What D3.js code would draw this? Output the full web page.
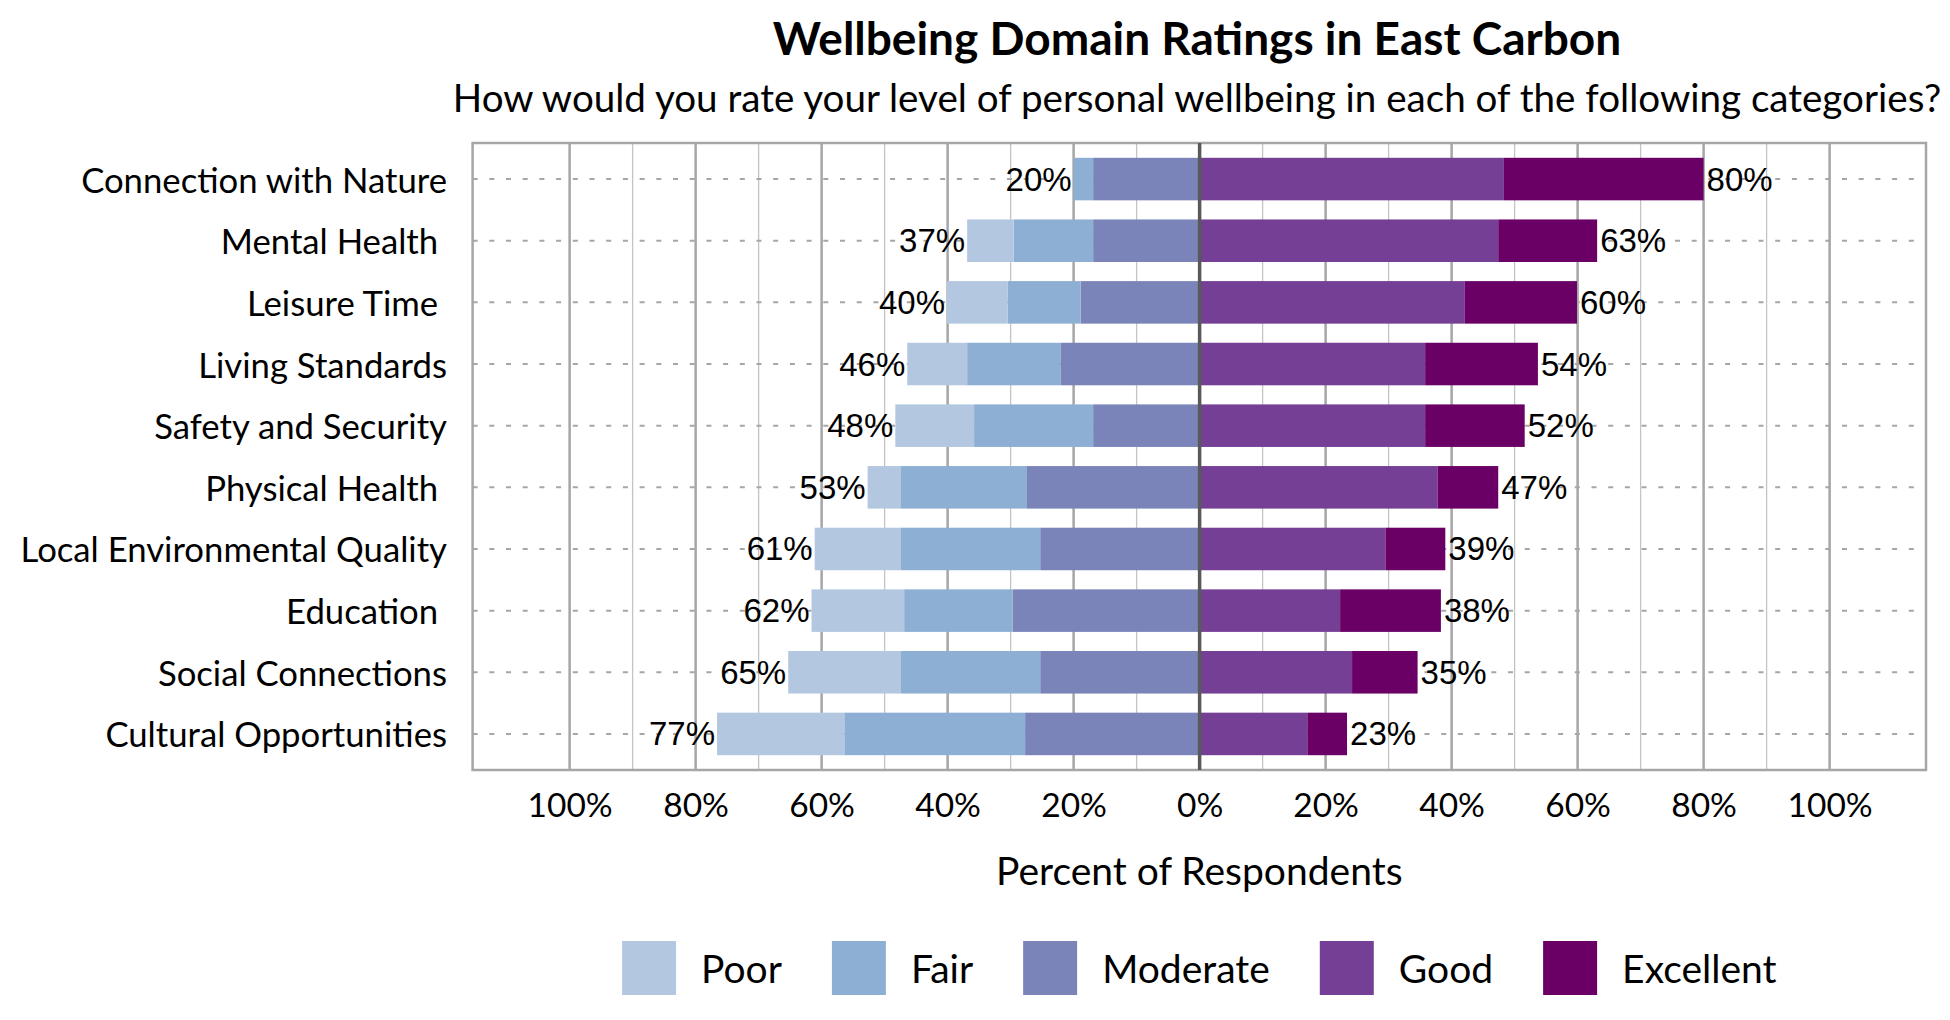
<!DOCTYPE html>
<html>
<head>
<meta charset="utf-8">
<script src="https://cdn.jsdelivr.net/npm/d3@7"></script>
<style>
  body { margin: 0; background: #fff; }
  text { fill: #000; }
  .cat { font-family: Lato, sans-serif; font-size: 34.7px; white-space: pre; }
  .val { font-family: "Liberation Sans", Arial, sans-serif; font-size: 33px; }
</style>
</head>
<body>
<script>
// ratings per domain, percent of respondents
var categories = ["Connection with Nature", "Mental Health ", "Leisure Time ", "Living Standards",
  "Safety and Security", "Physical Health ", "Local Environmental Quality", "Education ",
  "Social Connections", "Cultural Opportunities"]
var poor      = [0.0,  7.4,  9.6,  9.5, 12.5,  5.3, 13.7, 14.7, 17.9, 20.2]
var fair      = [3.1, 12.6, 11.6, 14.8, 18.9, 20.0, 22.1, 17.2, 22.1, 28.7]
var moderate  = [16.9, 16.9, 18.9, 22.1, 16.9, 27.4, 25.3, 29.7, 25.3, 27.7]
var good      = [48.3, 47.4, 42.1, 35.8, 35.8, 37.8, 29.5, 22.3, 24.2, 17.1]
var excellent = [31.7, 15.7, 17.8, 17.9, 15.8,  9.6,  9.5, 16.0, 10.4,  6.3]
var seriesNames = ["Poor", "Fair", "Moderate", "Good", "Excellent"]
var seriesColors = ["#b3c8e0", "#8dafd3", "#7a84b9", "#763f96", "#6a0066"]
var tickVals = [-100, -80, -60, -40, -20, 0, 20, 40, 60, 80, 100]

var W = 1950, H = 1020
var plotL = 472.6, plotR = 1926, plotT = 143, plotB = 770

var svg = d3.select('body').append('svg').attr('width', W).attr('height', H)

var x = d3.scaleLinear().domain([-115.4, 115.3]).range([plotL, plotR])
var y = d3.scaleBand().domain(categories).range([plotT, plotB]).paddingInner(0.31).paddingOuter(0.24)

// titles
svg.append('text').attr('x', 1197).attr('y', 55).attr('text-anchor', 'middle')
  .style('font-family', 'Lato, sans-serif').style('font-weight', 'bold').style('font-size', '46px')
  .text('Wellbeing Domain Ratings in East Carbon')
svg.append('text').attr('x', 1197).attr('y', 112).attr('text-anchor', 'middle')
  .style('font-family', 'Lato, sans-serif').style('font-size', '38.6px')
  .text('How would you rate your level of personal wellbeing in each of the following categories?')

var g = svg.append('g')

// vertical gridlines, every 10%, heavier every 20%
var grid = d3.range(-100, 101, 10).filter(d => d != 0)
g.selectAll('.vgrid').data(grid).enter().append('line')
  .attr('class', 'vgrid')
  .attr('x1', d => x(d)).attr('x2', d => x(d))
  .attr('y1', plotT).attr('y2', plotB)
  .attr('stroke', d => d % 20 == 0 ? '#a6a6a6' : '#c4c4c4')
  .attr('stroke-width', d => d % 20 == 0 ? 2.5 : 1.3)

// dotted row lines
g.selectAll('.hgrid').data(categories).enter().append('line')
  .attr('class', 'hgrid')
  .attr('x1', plotL).attr('x2', plotR)
  .attr('y1', d => y(d) + y.bandwidth() / 2).attr('y2', d => y(d) + y.bandwidth() / 2)
  .attr('stroke', '#a6a6a6').attr('stroke-width', 2).attr('stroke-dasharray', '5,11.7')

// plot frame
g.append('rect').attr('x', plotL).attr('y', plotT).attr('width', plotR - plotL).attr('height', plotB - plotT)
  .attr('fill', 'none').attr('stroke', '#a6a6a6').attr('stroke-width', 2.5)

// stacked segments
var rows = categories.map((c, i) => {
  var segs = []
  var l1 = -moderate[i], l2 = l1 - fair[i], l3 = l2 - poor[i]
  segs.push({ s: 2, x0: l1, x1: 0 })
  segs.push({ s: 1, x0: l2, x1: l1 })
  segs.push({ s: 0, x0: l3, x1: l2 })
  segs.push({ s: 3, x0: 0, x1: good[i] })
  segs.push({ s: 4, x0: good[i], x1: good[i] + excellent[i] })
  return { cat: c, segs: segs, neg: -l3, pos: good[i] + excellent[i] }
})

var rowG = g.selectAll('.row').data(rows).enter().append('g').attr('class', 'row')
rowG.selectAll('rect').data(d => d.segs.filter(s => s.x1 - s.x0 > 0).map(s => Object.assign({ cat: d.cat }, s)))
  .enter().append('rect')
  .attr('x', d => x(d.x0)).attr('width', d => x(d.x1) - x(d.x0))
  .attr('y', d => y(d.cat)).attr('height', y.bandwidth())
  .attr('fill', d => seriesColors[d.s])

// zero line
g.append('line').attr('x1', x(0)).attr('x2', x(0)).attr('y1', plotT).attr('y2', plotB)
  .attr('stroke', '#595959').attr('stroke-width', 3.5)

// value labels
rowG.append('text').attr('class', 'val')
  .attr('x', d => x(-d.neg) - 2).attr('y', d => y(d.cat) + y.bandwidth() / 2)
  .attr('text-anchor', 'end').attr('dominant-baseline', 'central')
  .text(d => Math.round(d.neg) + '%')
rowG.append('text').attr('class', 'val')
  .attr('x', d => x(d.pos) + 3).attr('y', d => y(d.cat) + y.bandwidth() / 2)
  .attr('dominant-baseline', 'central')
  .text(d => Math.round(d.pos) + '%')

// category labels
g.selectAll('.cat').data(categories).enter().append('text').attr('class', 'cat')
  .attr('x', 447).attr('y', d => y(d) + y.bandwidth() / 2)
  .attr('text-anchor', 'end').attr('dominant-baseline', 'central')
  .text(d => d)

// x axis labels
var ax = svg.append('g').attr('transform', 'translate(0,' + plotB + ')')
  .call(d3.axisBottom(x).tickValues(tickVals).tickFormat(d => Math.abs(d) + '%').tickSize(0))
ax.select('.domain').remove()
ax.selectAll('text').attr('y', 47).attr('dy', null)
  .style('font-family', 'Lato, sans-serif').style('font-size', '33.5px').attr('fill', '#000')

svg.append('text').attr('x', (plotL + plotR) / 2).attr('y', 885).attr('text-anchor', 'middle')
  .style('font-family', 'Lato, sans-serif').style('font-size', '39px')
  .text('Percent of Respondents')

// legend, laid out from text widths and centred under the plot
var leg = svg.append('g')
var sw = 54, gapT = 25, gapI = 50, cx = 0
seriesNames.forEach((n, i) => {
  var it = leg.append('g')
  it.append('rect').attr('width', sw).attr('height', sw).attr('fill', seriesColors[i])
  var t = it.append('text').attr('x', sw + gapT).attr('y', sw / 2).attr('dominant-baseline', 'central')
    .style('font-family', 'Lato, sans-serif').style('font-size', '39px').text(n)
  var w = t.node().getComputedTextLength()
  it.attr('transform', 'translate(' + cx + ',0)')
  cx += sw + gapT + w + gapI
})
var legW = cx - gapI
leg.attr('transform', 'translate(' + ((plotL + plotR) / 2 - legW / 2) + ',941)')
</script>
</body>
</html>
